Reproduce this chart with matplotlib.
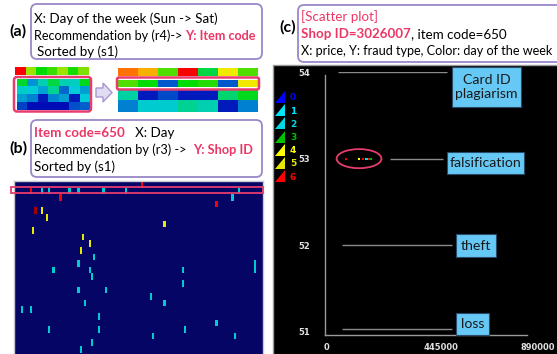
import matplotlib
matplotlib.use('Agg')
import matplotlib.pyplot as plt
import numpy as np
from matplotlib.colors import LinearSegmentedColormap
from matplotlib.patches import FancyBboxPatch, Rectangle, Ellipse, Polygon

# ---------------- data ----------------
# (a) small heatmap: header row (day of week, Sun->Sat) and 4 item rows
a_left_header = [0.93, 0.68, 0.55, 0.60, 0.68, 0.57, 0.66]
a_left_rows = [[0.52, 0.28, 0.40, 0.50, 0.40, 0.38, 0.53],
               [0.37, 0.35, 0.30, 0.44, 0.22, 0.35, 0.29],
               [0.29, 0.25, 0.12, 0.26, 0.29, 0.12, 0.35],
               [0.17, 0.10, 0.10, 0.10, 0.10, 0.19, 0.21]]
# (a) recommended (sorted) heatmap
a_right_header = [0.85, 0.80, 0.62, 0.93, 0.50, 0.75, 0.62]
a_right_rows = [[0.62, 0.55, 0.20, 0.55, 0.58, 0.20, 0.75],
                [0.42, 0.12, 0.18, 0.12, 0.12, 0.47, 0.53],
                [0.25, 0.36, 0.36, 0.44, 0.40, 0.12, 0.25]]

# (b) day x shop heatmap cells (day index, shop row, value)
b_days = [56, 7, 12, 15, 24, 28, 39, 49, 99, 20, 96, 89, 9, 12, 14, 66, 8, 30, 33, 29,
          35, 28, 106, 106, 17, 33, 34, 74, 74, 28, 40, 60, 31, 66, 3, 7, 37, 89, 15, 37,
          75, 61, 97, 34, 29]
b_rows = [0, 1, 1, 1, 1, 1, 1, 1, 1, 2, 2, 3, 4, 4, 5, 6, 7, 8, 9, 10,
          11, 12, 12, 13, 13, 13, 14, 13, 15, 16, 16, 17, 18, 18, 19, 19, 20, 21, 22, 22,
          22, 23, 23, 24, 25]
b_vals = [0.93, 0.93, 0.36, 0.36, 0.36, 0.36, 0.36, 0.36, 0.36, 0.93, 0.36, 0.93, 1.0, 0.74, 0.74, 0.74, 0.74, 0.74, 0.74, 0.74,
          0.36, 0.36, 0.36, 0.36, 0.36, 0.36, 0.36, 0.36, 0.36, 0.36, 0.36, 0.36, 0.36, 0.36, 0.36, 0.36, 0.36, 0.36, 0.36, 0.36,
          0.36, 0.36, 0.36, 0.36, 0.36]
b_ndays = 110
b_nrows = 27

# (c) scatter: price, fraud type, day of week
c_price = [74000, 125000, 140500, 152000, 156000, 164000, 172000]
c_type = [53, 53, 53, 53, 53, 53, 53]
c_day = [6, 4, 6, 1, 2, 6, 3]
c_yticks = [51, 52, 53, 54]
c_xticks = [0, 445000, 890000]
c_type_names = {54: 'Card ID\nplagiarism', 53: 'falsification', 52: 'theft', 51: 'loss'}
day_labels = ['0', '1', '2', '3', '4', '5', '6']
day_colors = ['#0000ff', '#00e6ff', '#00d8e6', '#00c000', '#ffff00', '#e6e600', '#ff0000']

# ---------------- figure ----------------
W, H = 557, 354
fig = plt.figure(figsize=(W / 100, H / 100), dpi=100)
FONT = 'Lato'
RED = '#ec3766'
PURPLE = '#9b87c8'
PINK = '#e63c6e'

def ax_px(x0, y0, x1, y1, z=0):
    return fig.add_axes([x0 / W, 1 - y1 / H, (x1 - x0) / W, (y1 - y0) / H], zorder=z)

cmap = LinearSegmentedColormap.from_list('heat', [
    (0.0, (0.02, 0.02, 0.40)), (0.1, (0.0, 0.05, 0.72)), (0.2, (0.0, 0.35, 0.80)),
    (0.35, (0.0, 0.80, 0.85)), (0.45, (0.0, 0.83, 0.55)), (0.55, (0.0, 0.86, 0.0)),
    (0.65, (0.45, 0.88, 0.0)), (0.75, (0.95, 0.93, 0.0)), (0.85, (1.0, 0.45, 0.0)),
    (0.93, (1.0, 0.0, 0.0)), (1.0, (0.65, 0.0, 0.0))])

# background axes (pixel coordinates)
bg = ax_px(0, 0, W, H, z=-5)
bg.set_xlim(0, W); bg.set_ylim(H, 0); bg.axis('off')
bg.add_patch(Rectangle((273, 64.5), 290, 300, facecolor='black', edgecolor='#9a9a9a', lw=1))

def heat(x0, y0, x1, y1, data):
    ax = ax_px(x0, y0, x1, y1)
    ax.imshow(np.array(data, dtype=float), cmap=cmap, vmin=0, vmax=1, aspect='auto',
              interpolation='nearest')
    ax.set_xticks([]); ax.set_yticks([])
    for s in ax.spines.values():
        s.set_visible(False)
    return ax

# (a) heatmaps
heat(15, 67, 89, 75.5, [a_left_header])
heat(16.5, 78.5, 89, 109.5, a_left_rows)
heat(118, 67.7, 258, 75.7, [a_right_header])
heat(118, 79.5, 258, 87.5, [a_right_rows[0]])
heat(118, 90, 258, 112.3, a_right_rows[1:])

# (b) heatmap
mat = np.zeros((b_nrows, b_ndays))
for d, r, v in zip(b_days, b_rows, b_vals):
    mat[r, d] = v
axb = ax_px(14, 181, 263, 354)
axb.imshow(mat, cmap=cmap, vmin=0, vmax=1, aspect='auto', interpolation='nearest')
axb.set_ylim(26.2 - 0.5 + 0.02, -0.5)
axb.set_xticks([]); axb.set_yticks([])
for s in axb.spines.values():
    s.set_color('#c8c8d2'); s.set_linewidth(1)
axb.spines['bottom'].set_visible(False)

# (c) scatter axes
axc = ax_px(325, 72, 555, 335)
axc.set_facecolor('none')
axc.set_xlim(-7800, 890000)
axc.set_ylim(50.965, 54.0)
for sp in ['top', 'right']:
    axc.spines[sp].set_visible(False)
axc.spines['left'].set_bounds(50.965, 53.965)
axc.spines['bottom'].set_bounds(-7800, 780000)
for sp in ['left', 'bottom']:
    axc.spines[sp].set_color('#9a9a9a'); axc.spines[sp].set_linewidth(1)
axc.set_yticks(c_yticks)
axc.set_yticklabels([str(v) for v in c_yticks])
axc.set_xticks(c_xticks)
axc.set_xticklabels([str(v) for v in c_xticks])
axc.tick_params(length=0, colors='#e0e0e0', labelsize=6)
axc.tick_params(axis='y', pad=11)
axc.tick_params(axis='x', pad=6)
for lab in axc.get_xticklabels() + axc.get_yticklabels():
    lab.set_fontweight('bold')
axc.get_xticklabels()[-1].set_horizontalalignment('right')
axc.hlines(54, 42900, 468400, color='#8a8a8a', lw=1)
axc.hlines(53, 246000, 452800, color='#8a8a8a', lw=1)
axc.hlines(52, 58500, 488000, color='#8a8a8a', lw=1)
axc.hlines(51.03, 58500, 488000, color='#8a8a8a', lw=1)
axc.scatter(c_price, c_type, c=[day_colors[d] for d in c_day], s=2.5, marker='s', lw=0, zorder=3)
axc.add_patch(Ellipse((125000, 53), 175000, 0.22, facecolor='none', edgecolor=PINK, lw=1.3,
                      clip_on=False))

# ---------------- overlay (text, boxes) ----------------
ov = ax_px(0, 0, W, H, z=10)
ov.set_xlim(0, W); ov.set_ylim(H, 0); ov.axis('off'); ov.patch.set_alpha(0)

def rbox(x0, y0, x1, y1, ec=PURPLE, lw=1.3, pad=6):
    ov.add_patch(FancyBboxPatch((x0, y0), x1 - x0, y1 - y0,
                                boxstyle='round,pad=0,rounding_size=%g' % pad,
                                facecolor='none', edgecolor=ec, lw=lw))

rbox(31, 4, 262, 59)
rbox(31, 120, 262, 177)
rbox(298, 5, 565, 62)
rbox(14, 77, 91, 111.5, ec=PINK, lw=1.8, pad=3)
rbox(117, 77.5, 259, 89.5, ec=PINK, lw=1.8, pad=2)
ov.add_patch(Rectangle((11, 187), 252, 6, facecolor='none', edgecolor=PINK, lw=1.3))

# arrow between heatmaps
ov.add_patch(Polygon([(96, 88), (103, 88), (103, 83), (112, 92.5), (103, 102), (103, 97), (96, 97)],
                     closed=True, facecolor='#e2dcf2', edgecolor='#a896d2', lw=1))

fig.canvas.draw()
renderer = fig.canvas.get_renderer()

def rich(x, y, parts, size=9.6):
    for s, col, wt in parts:
        t = ov.text(x, y, s, color=col, fontsize=size, fontweight=wt, va='center', ha='left',
                    family=FONT)
        bb = t.get_window_extent(renderer=renderer)
        x += bb.width

for lab, x, y in [('(a)', 9, 31), ('(b)', 9, 148), ('(c)', 279, 27)]:
    ov.text(x, y, lab, fontsize=11.5, fontweight='bold', family=FONT, va='center', ha='left', color='black')

rich(34, 19, [('X: Day of the week (Sun -> Sat)', 'black', 'normal')])
rich(34, 36, [('Recommendation by (r4)-> ', 'black', 'normal'), ('Y: Item code', RED, 'bold')], size=9.1)
rich(37, 52, [('Sorted by (s1)', 'black', 'normal')])

rich(34, 133, [('Item code=650', RED, 'bold'), ('   X: Day', 'black', 'normal')])
rich(34, 150, [('Recommendation by (r3) ->  ', 'black', 'normal'), ('Y: Shop ID', RED, 'bold')], size=9.2)
rich(34, 167, [('Sorted by (s1)', 'black', 'normal')])

rich(301, 17, [('[Scatter plot]', RED, 'normal')])
rich(301, 34, [('Shop ID=3026007', RED, 'bold'), (', item code=650', 'black', 'normal')])
rich(301, 51, [('X: price, Y: fraud type, Color: day of the week', 'black', 'normal')], size=9.1)

# fraud-type labels
lab_boxes = {54: (452, 67, 521, 107), 53: (447, 152, 524, 174), 52: (456, 234, 496, 257),
             51: (456, 313, 489, 335)}
for k, (x0, y0, x1, y1) in lab_boxes.items():
    ov.add_patch(Rectangle((x0, y0), x1 - x0, y1 - y0, facecolor='#66c8f5', edgecolor='#2a4a6a', lw=0.8))
    ov.text((x0 + x1) / 2, (y0 + y1) / 2, c_type_names[k], fontsize=10.2, family=FONT, ha='center',
            va='center', color='#1a1a1a', linespacing=1.15)

# day-of-week legend
for i, (lab, col) in enumerate(zip(day_labels, day_colors)):
    yc = 97 + 13.2 * i
    ov.add_patch(Polygon([(275, yc + 6), (285, yc + 6), (285, yc - 6)], closed=True,
                         facecolor=col, edgecolor='none'))
    ov.text(290, yc + 1, lab, fontsize=6.5, fontweight='bold', color=col, va='center', ha='left')

fig.savefig('out.png', dpi=100)
